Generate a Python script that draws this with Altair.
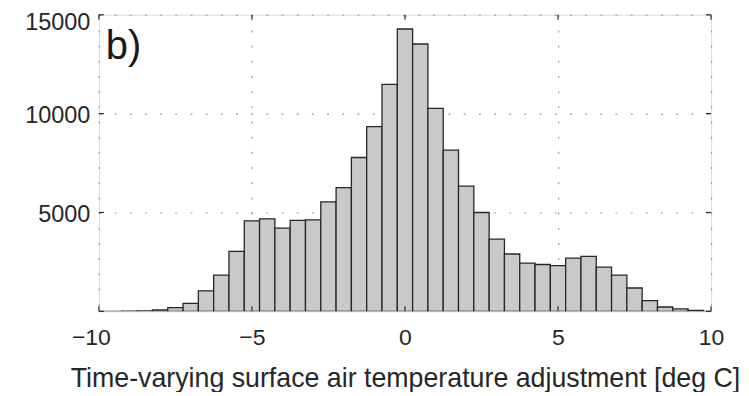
import altair as alt
import pandas as pd

# Histogram bin centres (deg C) and counts
bin_centers = [-10.0, -9.5, -9.0, -8.5, -8.0, -7.5, -7.0, -6.5, -6.0, -5.5,
               -5.0, -4.5, -4.0, -3.5, -3.0, -2.5, -2.0, -1.5, -1.0, -0.5,
               0.0, 0.5, 1.0, 1.5, 2.0, 2.5, 3.0, 3.5, 4.0, 4.5,
               5.0, 5.5, 6.0, 6.5, 7.0, 7.5, 8.0, 8.5, 9.0, 9.5, 10.0]
counts = [0, 0, 5, 20, 70, 185, 400, 1040, 1830, 3030,
          4580, 4680, 4210, 4600, 4630, 5540, 6260, 7780, 9340, 11480,
          14280, 13520, 10270, 8150, 6330, 5000, 3650, 2900, 2440, 2370,
          2310, 2690, 2780, 2240, 1830, 1180, 540, 220, 120, 50, 0]
bin_width = 0.5

x_ticks = [-10, -5, 0, 5, 10]
y_ticks = [0, 5000, 10000, 15000]
y_labels = [5000, 10000, 15000]

panel_label = ["b)"]
x_title = "Time-varying surface air temperature adjustment [deg C]"

W, H = 613, 297
FONT = "Liberation Sans"
TXT = "#262626"

df = pd.DataFrame({"center": bin_centers, "count": counts})

xscale = alt.Scale(domain=[-10, 10], nice=False, zero=False)
yscale = alt.Scale(domain=[0, 15000], nice=False)

bars = alt.Chart(df).transform_calculate(
    lo=f"datum.center - {bin_width / 2}",
    hi=f"datum.center + {bin_width / 2}",
).mark_rect(
    fill="#c9c9c9", stroke="#262626", strokeWidth=1.3, clip=True
).encode(
    x=alt.X("lo:Q", scale=xscale,
            axis=alt.Axis(values=x_ticks, title=x_title, grid=True,
                          gridDash=[2, 13.2], gridColor="#9a9a9a", gridWidth=1.2,
                          ticks=False, domain=False, labelFontSize=23,
                          labelFlush=False,
                          labelOffset={"condition": {"test": "datum.value == -10", "value": -8}, "value": 0},
                          labelPadding=15, labelColor=TXT, labelFont=FONT,
                          titleFont=FONT, titleFontSize=26.8, titleFontWeight="normal",
                          titleColor=TXT, titlePadding=16,
                          labelExpr="replace(datum.label, '-', '\u2212')")),
    x2="hi:Q",
    y=alt.Y("count:Q", scale=yscale,
            axis=alt.Axis(values=y_labels, title=None, grid=True,
                          gridDash=[2, 13.2], gridColor="#9a9a9a", gridWidth=1.2,
                          ticks=False, domain=False, labelFontSize=23.5,
                          labelOffset={"condition": {"test": "datum.value == 15000", "value": 8}, "value": 2},
                          labelPadding=9, labelColor=TXT, labelFont=FONT,
                          format="d")),
    y2=alt.datum(0),
)

xt = pd.DataFrame({"v": x_ticks})
yt = pd.DataFrame({"v": y_ticks})
tick_style = dict(color="#2b2b2b", strokeWidth=1.2)

bottom_ticks = alt.Chart(xt).mark_rule(**tick_style).encode(
    x=alt.X("v:Q", scale=xscale), y=alt.value(H), y2=alt.value(H - 5))
top_ticks = alt.Chart(xt).mark_rule(**tick_style).encode(
    x=alt.X("v:Q", scale=xscale), y=alt.value(0), y2=alt.value(5))
left_ticks = alt.Chart(yt).mark_rule(**tick_style).encode(
    y=alt.Y("v:Q", scale=yscale), x=alt.value(0), x2=alt.value(5))
right_ticks = alt.Chart(yt).mark_rule(**tick_style).encode(
    y=alt.Y("v:Q", scale=yscale), x=alt.value(W), x2=alt.value(W - 5))

label = alt.Chart(pd.DataFrame({"t": panel_label})).mark_text(
    font=FONT, fontSize=40, color="#1a1a1a", align="left", baseline="alphabetic"
).encode(text="t:N", x=alt.value(7), y=alt.value(44))

chart = alt.layer(bars, bottom_ticks, top_ticks, left_ticks, right_ticks, label).properties(
    width=W, height=H,
    autosize="none",
    padding={"left": 91, "top": 6.5, "right": 30, "bottom": 80},
).configure_view(
    stroke="#333333", strokeWidth=1.6
).configure(background="white")

chart.save("out.html", embed_options={"renderer": "svg", "actions": False})
